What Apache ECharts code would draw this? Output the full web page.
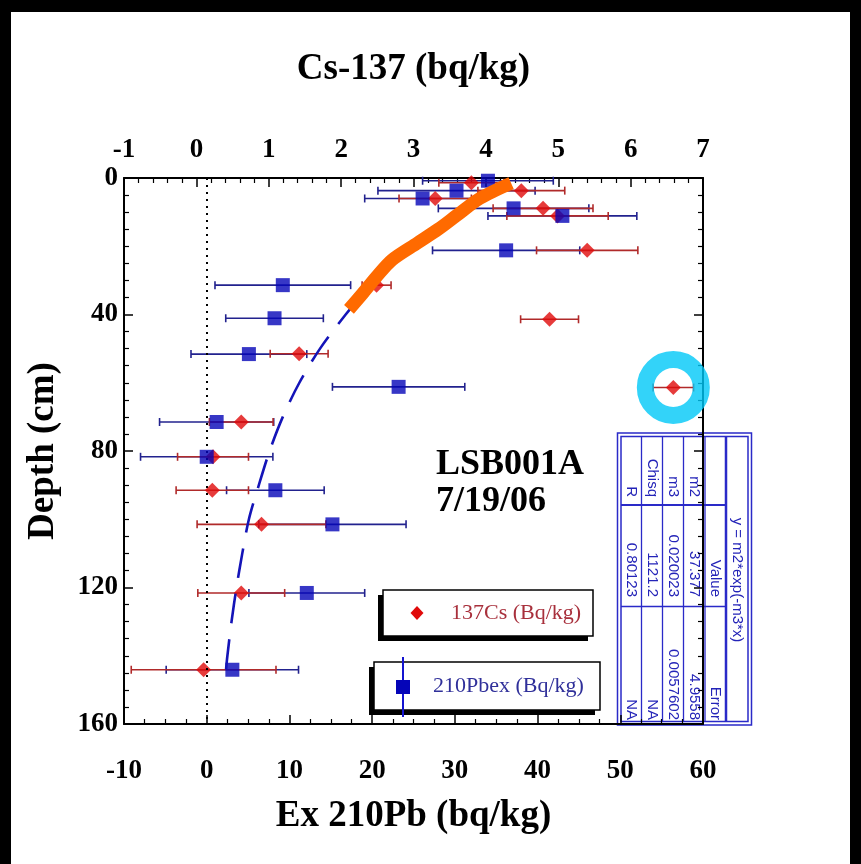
<!DOCTYPE html>
<html>
<head>
<meta charset="utf-8">
<script src="https://cdn.jsdelivr.net/npm/echarts@6/dist/echarts.min.js"></script>
<style>
  html, body { margin: 0; padding: 0; background: #fff; }
  #chart { width: 861px; height: 864px; }
</style>
</head>
<body>
<div id="chart"></div>
<script>
// Ex 210Pb (bottom axis), blue squares
const pbDepth = [0.8, 3.7, 6.0, 8.9, 11.1, 21.2, 31.4, 41.1, 51.6, 61.2, 71.5, 81.7, 91.5, 101.5, 121.6, 144.1]
const pbValue = [34.0, 30.2, 26.1, 37.1, 43.0, 36.2, 9.2, 8.2, 5.1, 23.2, 1.2, 0.0, 8.3, 15.2, 12.1, 3.1]
const pbError = [7.9, 9.5, 7.0, 9.1, 9.0, 8.9, 8.2, 5.9, 7.0, 8.0, 6.9, 8.0, 5.9, 8.9, 7.0, 8.0]

// Cs-137 (top axis), red diamonds
const csDepth = [1.4, 3.7, 6.0, 8.9, 11.1, 21.2, 31.4, 41.4, 51.5, 61.4, 71.5, 81.7, 91.5, 101.5, 121.6, 144.1]
const csValue = [3.80, 4.49, 3.30, 4.79, 4.99, 5.40, 2.49, 4.88, 1.42, 6.59, 0.62, 0.23, 0.22, 0.90, 0.62, 0.10]
const csError = [0.45, 0.6, 0.5, 0.69, 0.7, 0.7, 0.2, 0.4, 0.4, 0.28, 0.44, 0.49, 0.5, 0.89, 0.6, 1.0]

// exponential fit of 210Pb
const fitDepth = [36, 40, 50, 60, 70, 80, 90, 100, 110, 120, 130, 140, 145]
const fitValue = [18.2, 16.8, 13.7, 11.2, 9.2, 7.6, 6.3, 5.1, 4.3, 3.6, 3.0, 2.5, 2.3]

// hand drawn orange highlight over the upper part of the fit
const hlDepth = [1.5, 6, 11, 15, 19, 24, 29, 34, 38.5]
const hlValue = [36.8, 33.0, 30.2, 28.0, 25.5, 22.4, 20.5, 18.8, 17.2]

// circled outlier (index into the Cs arrays)
const circled = 9

const fitTitle = 'y = m2*exp(-m3*x)'
const fitHeader = ['', 'Value', 'Error']
const fitRows = [
  ['m2', '37.377', '4.9558'],
  ['m3', '0.020023', '0.0057602'],
  ['Chisq', '1121.2', 'NA'],
  ['R', '0.80123', 'NA']
]

const serif = '"Liberation Serif", "Times New Roman", serif'
const sans = '"Liberation Sans", Arial, sans-serif'

const errorBars = (color) => (params, api) => {
  const x = api.value(0), y = api.value(1), e = api.value(2)
  const a = api.coord([x - e, y])
  const b = api.coord([x + e, y])
  const cap = 4
  const style = {stroke: color, lineWidth: 1.6}
  return {
    type: 'group',
    children: [
      {type: 'line', shape: {x1: a[0], y1: a[1], x2: b[0], y2: b[1]}, style},
      {type: 'line', shape: {x1: a[0], y1: a[1] - cap, x2: a[0], y2: a[1] + cap}, style},
      {type: 'line', shape: {x1: b[0], y1: b[1] - cap, x2: b[0], y2: b[1] + cap}, style}
    ]
  }
}

const axisBase = {
  type: 'value',
  axisLine: {show: true, onZero: false, lineStyle: {color: '#000', width: 2}},
  axisTick: {show: true, inside: true, length: 9, lineStyle: {color: '#000', width: 1.5}},
  minorTick: {show: true, length: 5, lineStyle: {color: '#000', width: 1.2}},
  splitLine: {show: false},
  axisLabel: {fontFamily: serif, fontWeight: 'bold', fontSize: 27, color: '#000'},
  nameTextStyle: {fontFamily: serif, fontWeight: 'bold', fontSize: 37, color: '#000'}
}

// table of fit parameters, written sideways
const tblLines = [726, 705, 683.5, 662.5, 641.5]
const rowX = [715.5, 694, 673, 652, 631]
const colEnd = [497, 597, 720]
const tblText = (text, x, y, align) => ({
  type: 'text', x, y, rotation: -Math.PI / 2,
  style: {text, font: '15px ' + sans, fill: '#2424b8', align, verticalAlign: 'middle'}
})
const table = [
  {type: 'rect', shape: {x: 617.5, y: 433, width: 134, height: 292}, style: {fill: '#fff', stroke: '#2a2ac8', lineWidth: 1.5}},
  {type: 'rect', shape: {x: 621, y: 436.5, width: 127, height: 285}, style: {fill: 'none', stroke: '#2a2ac8', lineWidth: 1.5}},
  ...tblLines.map((x, i) => ({type: 'line', shape: {x1: x, y1: 436.5, x2: x, y2: 721.5}, style: {stroke: '#2a2ac8', lineWidth: i === 0 ? 2.5 : 1.3}})),
  {type: 'line', shape: {x1: 621, y1: 505, x2: 726, y2: 505}, style: {stroke: '#2a2ac8', lineWidth: 2}},
  {type: 'line', shape: {x1: 621, y1: 606.5, x2: 726, y2: 606.5}, style: {stroke: '#2a2ac8', lineWidth: 1.3}},
  tblText(fitTitle, 737.5, 580, 'center'),
  ...[fitHeader, ...fitRows].flatMap((row, r) => row.map((t, c) => tblText(t, rowX[r], colEnd[c], 'right')))
]

const option = {
  animation: false,
  backgroundColor: '#fff',
  grid: {left: 124, top: 178, width: 579, height: 546},
  xAxis: [
    {...axisBase, position: 'bottom', min: -10, max: 60, interval: 10,
      minorTick: {...axisBase.minorTick, splitNumber: 4},
      axisLabel: {...axisBase.axisLabel, margin: 34},
      name: 'Ex 210Pb (bq/kg)', nameLocation: 'middle', nameGap: 74},
    {...axisBase, position: 'top', min: -1, max: 7, interval: 1,
      minorTick: {...axisBase.minorTick, splitNumber: 5},
      axisLabel: {...axisBase.axisLabel, margin: 14},
      name: 'Cs-137 (bq/kg)', nameLocation: 'middle', nameGap: 90}
  ],
  yAxis: [
    {...axisBase, position: 'left', inverse: true, min: 0, max: 160, interval: 40,
      minorTick: {...axisBase.minorTick, splitNumber: 8},
      axisLabel: {...axisBase.axisLabel, margin: 6},
      name: 'Depth (cm)', nameLocation: 'middle', nameRotate: 90, nameGap: 62},
    {...axisBase, position: 'right', inverse: true, min: 0, max: 160, interval: 40,
      minorTick: {...axisBase.minorTick, splitNumber: 8},
      axisLabel: {show: false}}
  ],
  series: [
    {
      type: 'custom', name: 'pb-err', xAxisIndex: 0, yAxisIndex: 0, z: 2,
      encode: {x: 0, y: 1},
      renderItem: errorBars('#22228e'),
      data: pbValue.map((v, i) => [v, pbDepth[i], pbError[i]]),
      markLine: {
        silent: true, symbol: 'none', label: {show: false},
        lineStyle: {color: '#000', type: [2, 5], width: 2},
        data: [{xAxis: 0}]
      }
    },
    {
      type: 'custom', name: 'cs-err', xAxisIndex: 1, yAxisIndex: 0, z: 3,
      encode: {x: 0, y: 1},
      renderItem: errorBars('#b02a2a'),
      data: csValue.map((v, i) => [v, csDepth[i], csError[i]])
    },
    {
      type: 'scatter', name: '137Cs (Bq/kg)', xAxisIndex: 1, yAxisIndex: 0, z: 4,
      symbol: 'diamond', symbolSize: [15, 15],
      itemStyle: {color: '#e00a0a'},
      data: csValue.map((v, i) => [v, csDepth[i]])
    },
    {
      type: 'scatter', name: '210Pbex (Bq/kg)', xAxisIndex: 0, yAxisIndex: 0, z: 5,
      symbol: 'rect', symbolSize: 14,
      itemStyle: {color: '#0505b8'},
      data: pbValue.map((v, i) => [v, pbDepth[i]])
    },
    {
      type: 'line', name: 'fit', xAxisIndex: 0, yAxisIndex: 0, z: 6,
      showSymbol: false, symbol: 'none', smooth: 0.3,
      lineStyle: {color: '#1414b8', width: 2.6, type: [30, 16]},
      data: fitValue.map((v, i) => [v, fitDepth[i]])
    },
    {
      type: 'line', name: 'highlight', xAxisIndex: 0, yAxisIndex: 0, z: 7,
      showSymbol: false, symbol: 'none', smooth: 0.3,
      lineStyle: {color: '#ff6a00', width: 13, cap: 'butt', join: 'round'},
      data: hlValue.map((v, i) => [v, hlDepth[i]])
    },
    {
      type: 'scatter', name: 'circle', xAxisIndex: 1, yAxisIndex: 0, z: 8,
      symbol: 'circle', symbolSize: 56,
      itemStyle: {color: 'rgba(0,0,0,0)', borderColor: '#00c8f8', borderWidth: 17},
      data: [[csValue[circled], csDepth[circled]]]
    }
  ],
  graphic: [
    {
      type: 'group', z: 100,
      children: [
        // page frame
        {type: 'rect', shape: {x: 0, y: 0, width: 861, height: 12}, style: {fill: '#000'}},
        {type: 'rect', shape: {x: 0, y: 0, width: 11, height: 864}, style: {fill: '#000'}},
        {type: 'rect', shape: {x: 850, y: 0, width: 11, height: 864}, style: {fill: '#000'}},
        // core id and date
        {type: 'text', x: 436, y: 446, style: {text: 'LSB001A\n7/19/06', font: 'bold 36px ' + serif, lineHeight: 37, fill: '#000'}},
        // legend: 137Cs
        {type: 'rect', shape: {x: 378, y: 595, width: 210, height: 46}, style: {fill: '#000'}},
        {type: 'rect', shape: {x: 383, y: 590, width: 210, height: 46}, style: {fill: '#fff', stroke: '#000', lineWidth: 1.5}},
        {type: 'polygon', shape: {points: [[417, 606], [423.5, 613], [417, 620], [410.5, 613]]}, style: {fill: '#e00a0a'}},
        {type: 'text', x: 451, y: 613, style: {text: '137Cs (Bq/kg)', font: '22px ' + serif, fill: '#a8303c', verticalAlign: 'middle'}},
        // legend: 210Pbex
        {type: 'rect', shape: {x: 369, y: 667, width: 226, height: 48}, style: {fill: '#000'}},
        {type: 'rect', shape: {x: 374, y: 662, width: 226, height: 48}, style: {fill: '#fff', stroke: '#000', lineWidth: 1.5}},
        {type: 'line', shape: {x1: 403, y1: 657, x2: 403, y2: 717}, style: {stroke: '#1414d0', lineWidth: 2}},
        {type: 'rect', shape: {x: 396, y: 680, width: 14, height: 14}, style: {fill: '#0505b8'}},
        {type: 'text', x: 433, y: 686, style: {text: '210Pbex (Bq/kg)', font: '22px ' + serif, fill: '#30309a', verticalAlign: 'middle'}},
        // fit parameters
        ...table
      ]
    }
  ]
}

const chart = echarts.init(document.getElementById('chart'))
chart.setOption(option)
</script>
</body>
</html>
